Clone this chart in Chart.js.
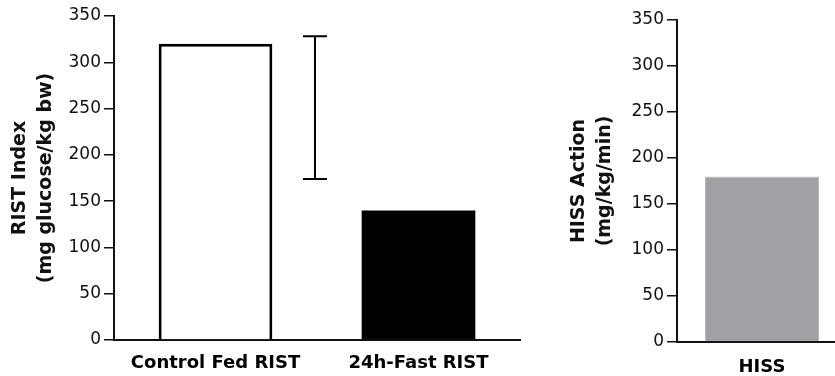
<!DOCTYPE html>
<html>
<head>
<meta charset="utf-8">
<script src="https://cdn.jsdelivr.net/npm/chart.js@4.4.1/dist/chart.umd.min.js"></script>
<style>
    html, body { margin: 0; padding: 0; background: #fff; overflow: hidden; }
    body { width: 835px; height: 376px; position: relative; }
    #ristBox { position: absolute; left: 0; top: 0; width: 540px; height: 376px; }
    #hissBox { position: absolute; left: 540px; top: 0; width: 330px; height: 376px; }
</style>
</head>
<body>
<div id="ristBox"><canvas id="ristChart"></canvas></div>
<div id="hissBox"><canvas id="hissChart"></canvas></div>

<script>
// datos
const ristLabels = ['Control Fed RIST', '24h-Fast RIST'];
const ristValues = [320, 140];
const ristColors = ['#ffffff', '#000000'];
const ristBorders = [3, 0];

// barra de error suelta entre las dos barras
const errorIndex = [0.49];
const errorLow = [174];
const errorHigh = [328];

const hissLabels = ['HISS'];
const hissValues = [180];

const yTicksMax = 350;
const yTicksStep = 50;

Chart.defaults.font.family = "'DejaVu Sans', Verdana, sans-serif";
Chart.defaults.color = '#111';
Chart.defaults.animation = false;

const errorBarPlugin = {
    id: 'errorBarPlugin',
    afterDatasetsDraw(chart) {
        const ctx = chart.ctx;
        const x = chart.scales.x;
        const y = chart.scales.y;
        ctx.save();
        ctx.strokeStyle = '#000';
        ctx.lineWidth = 2;
        errorIndex.forEach((pos, i) => {
            const px = x.getPixelForValue(pos);
            const top = y.getPixelForValue(errorHigh[i]);
            const bottom = y.getPixelForValue(errorLow[i]);
            ctx.beginPath();
            ctx.moveTo(px, top);
            ctx.lineTo(px, bottom);
            ctx.moveTo(px - 12, top);
            ctx.lineTo(px + 12, top);
            ctx.moveTo(px - 12, bottom);
            ctx.lineTo(px + 12, bottom);
            ctx.stroke();
        });
        ctx.restore();
    }
};

function buildOptions(cfg) {
    return {
        responsive: true,
        maintainAspectRatio: false,
        layout: {
            padding: { top: cfg.top, right: cfg.right, bottom: 0, left: 0 }
        },
        plugins: {
            legend: { display: false },
            tooltip: { enabled: false }
        },
        scales: {
            x: {
                grid: { display: false },
                border: { display: true, color: '#111', width: 2 },
                ticks: {
                    padding: cfg.labelPad,
                    color: '#000',
                    font: { size: 18, weight: 'bold' }
                },
                afterFit: (scale) => { scale.height = cfg.xHeight; }
            },
            y: {
                min: 0,
                max: yTicksMax,
                ticks: {
                    stepSize: yTicksStep,
                    padding: 3,
                    color: '#111',
                    font: { size: 17 }
                },
                grid: {
                    drawOnChartArea: false,
                    drawTicks: true,
                    tickLength: 10,
                    color: '#111',
                    lineWidth: 1.5
                },
                border: { display: true, color: '#111', width: 2 },
                title: {
                    display: true,
                    text: cfg.title,
                    color: '#111',
                    font: { size: 19, weight: 'bold', lineHeight: 1.32 },
                    padding: { top: cfg.titlePad, bottom: 0 }
                },
                afterFit: (scale) => { scale.width = cfg.yWidth; }
            }
        }
    };
}

function crearGraficoRist() {
    const ctx = document.getElementById('ristChart').getContext('2d');
    new Chart(ctx, {
        type: 'bar',
        data: {
            labels: ristLabels,
            datasets: [{
                data: ristValues,
                backgroundColor: ristColors,
                borderColor: '#000',
                borderWidth: ristBorders,
                categoryPercentage: 1,
                barPercentage: 0.56
            }]
        },
        options: buildOptions({
            top: 16, right: 20, labelPad: 5, xHeight: 36, yWidth: 114, titlePad: 8,
            title: ['RIST Index', '(mg glucose/kg bw)']
        }),
        plugins: [errorBarPlugin]
    });
}

function crearGraficoHiss() {
    const ctx = document.getElementById('hissChart').getContext('2d');
    new Chart(ctx, {
        type: 'bar',
        data: {
            labels: hissLabels,
            datasets: [{
                data: hissValues,
                backgroundColor: '#a1a0a5',
                borderColor: '#b4b3b8',
                borderWidth: 1,
                categoryPercentage: 1,
                barPercentage: 0.672
            }]
        },
        options: buildOptions({
            top: 20, right: 23, labelPad: 7, xHeight: 34, yWidth: 137, titlePad: 27,
            title: ['HISS Action', '(mg/kg/min)']
        })
    });
}

crearGraficoRist();
crearGraficoHiss();
</script>
</body>
</html>
